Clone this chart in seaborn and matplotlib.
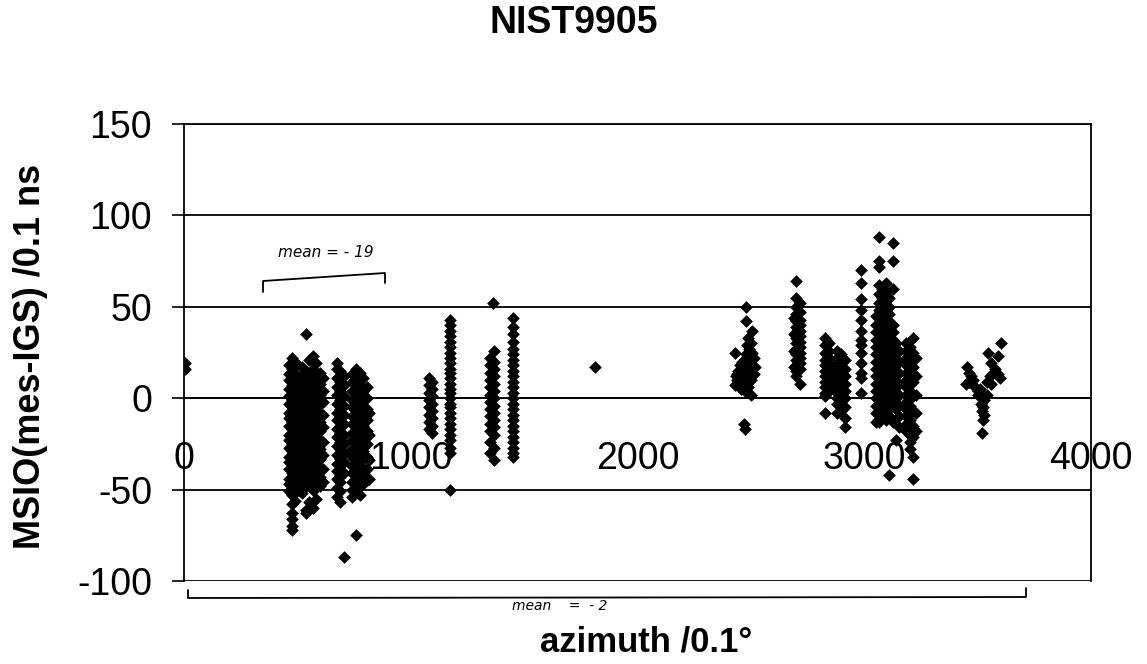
import matplotlib
matplotlib.use("Agg")
import matplotlib.pyplot as plt
from matplotlib.lines import Line2D
import pandas as pd
import seaborn as sns

# ---------------- text ----------------
title = "NIST9905"
x_label = "azimuth /0.1°"
y_label = "MSIO(mes-IGS) /0.1 ns"
x_ticks = [0, 1000, 2000, 3000, 4000]
y_ticks = [-100, -50, 0, 50, 100, 150]
note_top = "mean = - 19"
note_bottom = "mean    =  - 2"

# ---------------- data (azimuth /0.1 deg, MSIO /0.1 ns) ----------------
# isolated points
single_az = [3, 3, 1812, 1361, 2470, 2472]
single_ms = [16, 19, 17, 52, -14, -17]

# pass near azimuth 450-620 (dense block)
block1_az = [462, 476, 490, 506, 522, 536, 552, 568, 584, 600, 614]
block1_ms = [
    [18, 13, 10, 5, 1, -3, -8, -11, -15, -20, -23, -27, -32, -35, -39, -44, -47, -51],
    [22, 16, 11, 7, 2, -1, -5, -10, -13, -17, -22, -25, -29, -34, -37, -41, -46, -49, -53, -58, -63, -66, -70, -72],
    [20, 14, 8, 4, 0, -4, -9, -12, -16, -21, -24, -28, -33, -36, -40, -45, -48, -52, -56],
    [10, 6, 2, -2, -7, -10, -14, -19, -22, -26, -31, -34, -38, -43, -46, -50],
    [17, 12, 7, 3, -1, -6, -9, -13, -18, -21, -25, -30, -33, -37, -42, -45, -52],
    [35, 15, 9, 4, 0, -5, -8, -12, -17, -20, -24, -29, -32, -36, -41, -44, -48, -61, -63],
    [21, 13, 8, 2, -3, -7, -11, -16, -19, -23, -28, -31, -35, -40, -43, -47, -57],
    [23, 16, 10, 5, 0, -5, -10, -14, -18, -23, -26, -30, -35, -38, -42, -47, -50, -60],
    [19, 12, 6, 1, -4, -9, -13, -17, -22, -25, -29, -34, -37, -41, -46, -49, -55],
    [14, 8, 2, -3, -8, -13, -18, -23, -28, -33, -38, -43, -48],
    [11, 4, -2, -9, -16, -24, -31, -39, -46],
]

# pass near azimuth 680-710
block2_az = [676, 690, 706]
block2_ms = [
    [19, 16, 11, 6, 2, -3, -8, -12, -17, -21, -26, -31, -36, -40, -44, -49, -54],
    [15, 9, 4, -1, -6, -10, -15, -19, -24, -28, -33, -37, -42, -46, -51, -57],
    [12, 7, 1, -4, -9, -14, -20, -25, -30, -35, -41, -87],
]

# pass near azimuth 740-820
block3_az = [742, 758, 774, 790, 806, 818]
block3_ms = [
    [13, 9, 4, -1, -5, -10, -14, -19, -23, -28, -32, -37, -41, -46, -50, -54],
    [16, 10, 5, 0, -4, -9, -13, -18, -22, -27, -31, -36, -40, -45, -49, -75],
    [14, 7, 2, -3, -7, -12, -16, -21, -25, -30, -34, -39, -43, -48, -53],
    [11, 4, -1, -6, -11, -15, -20, -24, -29, -33, -38, -42, -47],
    [6, 0, -6, -12, -18, -25, -32, -39, -45],
    [-8, -20, -34, -44],
]

# passes near azimuth 1080-1460
block4_az = [1080, 1094, 1171, 1350, 1365, 1452]
block4_ms = [
    [11, 7, 3, -1, -5, -9, -13, -17],
    [9, 5, 1, -3, -7, -11, -15, -19],
    [43, 40, 37, 34, 31, 28, 25, 22, 19, 16, 14, 11, 8, 5, 3, 0, -3, -5, -8, -11, -14, -17, -20, -23, -27, -30, -50],
    [22, 18, 14, 10, 6, 2, -2, -6, -10, -14, -18, -24, -30],
    [26, 20, 16, 12, 8, 4, 0, -4, -8, -12, -16, -20, -27, -34],
    [44, 39, 35, 31, 27, 24, 21, 18, 15, 12, 9, 6, 3, 0, -3, -6, -9, -12, -15, -18, -21, -24, -27, -30, -32],
]

# pass near azimuth 2430-2520 (scattered)
group5_az = [2479, 2479, 2505, 2487, 2483, 2430, 2505, 2519, 2444, 2461, 2490,
             2430, 2450, 2474, 2500, 2512, 2440, 2465, 2495, 2455, 2488, 2512, 2500,
             2440, 2448, 2456, 2466, 2478, 2485, 2495, 2450, 2462, 2472, 2500, 2480,
             2492, 2458, 2436]
group5_ms = [50, 42, 37, 33, 29, 25, 25, 17, 15, 12, 18,
             7, 9, 7, 10, 22, 13, 11, 21, 5, 6, 13, 30,
             10, 14, 8, 15, 12, 9, 15, 18, 20, 4, 2, 24,
             27, 6, 12]

# passes near azimuth 2690-3000
block6_az = [2690, 2700, 2718, 2828, 2845, 2880, 2898, 2915, 2985]
block6_ms = [
    [44, 35, 26, 17],
    [64, 55, 50, 46, 42, 39, 36, 33, 30, 27, 24, 21, 18, 15, 12],
    [52, 47, 43, 40, 37, 34, 31, 28, 25, 22, 19, 16, 8],
    [33, 29, 25, 21, 18, 15, 12, 9, 6, 3, 1, -8],
    [30, 26, 22, 19, 16, 13, 10, 7, 4],
    [26, 22, 18, 15, 12, 9, 6, 3, 0, -3, -8],
    [24, 20, 17, 14, 11, 8, 5, 2, -1, -4, -7],
    [21, 16, 12, 8, 4, 0, -5, -11, -16],
    [70, 63, 54, 48, 43, 37, 32, 29, 25, 19, 14, 11, 3],
]

# pass near azimuth 3040-3250 (dense block)
block7_az = [3050, 3065, 3080, 3095, 3110, 3125, 3140, 3155, 3185, 3200, 3215, 3230]
block7_ms = [
    [45, 40, 36, 32, 28, 24, 20, 16, 12, 8, 4, 0, -4, -8, -13],
    [88, 75, 72, 62, 57, 52, 48, 44, 40, 36, 32, 28, 24, 20, 16, 12, 8, 4, 0, -4, -9, -13],
    [60, 55, 50, 46, 42, 38, 34, 30, 26, 22, 18, 14, 10, 6, 2, -2, -6, -10],
    [63, 58, 53, 49, 45, 41, 37, 33, 29, 25, 21, 17, 13, 9, 5, 1, -3, -7, -12],
    [55, 50, 46, 42, 38, 34, 30, 26, 22, 18, 14, 10, 6, 2, -2, -6, -10, -42],
    [85, 75, 60, 40, 36, 32, 28, 24, 20, 16, 12, 8, 4, 0, -4, -13],
    [30, 24, 18, 12, 6, 0, -6, -23],
    [26, 20, 14, 8, 2, -4, -10, -16],
    [30, 26, 22, 18, 14, 10, 6, 2, -2, -6, -10, -14, -18],
    [28, 24, 20, 16, 12, 8, 4, 0, -4, -8, -12, -16, -20, -24, -28],
    [33, 25, 17, 9, 1, -7, -15, -21, -32, -44],
    [22, 12, 2, -8, -18],
]

# pass near azimuth 3440-3610 (scattered)
group8_az = [3455, 3462, 3470, 3448, 3460, 3478, 3490, 3500,
             3601, 3544, 3588, 3560, 3575, 3590, 3600, 3555, 3540, 3560,
             3510, 3520, 3530, 3515, 3525, 3520, 3530, 3522, 3518, 3500, 3540, 3510]
group8_ms = [17, 14, 12, 8, 9, 10, 6, 4,
             30, 25, 23, 19, 16, 13, 11, 12, 9, 8,
             3, 1, -1, -3, -5, -7, -9, -12, -19, 2, 2, 5]

# ---------------- assemble ----------------
az_all, ms_all = list(single_az), list(single_ms)
for cols_az, cols_ms in [(block1_az, block1_ms), (block2_az, block2_ms), (block3_az, block3_ms),
                         (block4_az, block4_ms), (block6_az, block6_ms), (block7_az, block7_ms)]:
    for a, vals in zip(cols_az, cols_ms):
        az_all += [a] * len(vals)
        ms_all += vals
az_all += group5_az + group8_az
ms_all += group5_ms + group8_ms
df = pd.DataFrame({"azimuth": az_all, "msio": ms_all})

# ---------------- plot ----------------
sns.set_theme(style="white")
plt.rcParams["font.family"] = ["Liberation Sans", "DejaVu Sans"]
plt.rcParams["axes.unicode_minus"] = False
plt.rcParams["text.color"] = "black"
plt.rcParams["xtick.color"] = "black"
plt.rcParams["ytick.color"] = "black"

W, H = 1147, 664
fig = plt.figure(figsize=(W / 100, H / 100), dpi=100)
fig.patch.set_facecolor("white")
ax = fig.add_axes([184 / W, 1 - 581 / H, (1091 - 184) / W, (581 - 124) / H])
ax.set_facecolor("white")

ax.set_xlim(0, 4000)
ax.set_ylim(-100, 150)
ax.set_yticks(y_ticks)
ax.set_xticks(x_ticks)
ax.yaxis.grid(True, color="black", linewidth=1.3)
ax.xaxis.grid(False)
ax.set_axisbelow(True)

sns.scatterplot(data=df, x="azimuth", y="msio", marker="D", color="black",
                s=42, linewidth=0, ax=ax, legend=False, zorder=3)

ax.spines["bottom"].set_position(("data", 0))
for side in ["left", "right", "top", "bottom"]:
    ax.spines[side].set_color("black")
    ax.spines[side].set_linewidth(1.3)

ax.tick_params(axis="x", direction="out", length=9, width=1.2, color="black",
               labelsize=27, pad=22, labelcolor="black")
ax.tick_params(axis="y", direction="out", length=9, width=1.2, color="black",
               labelsize=27, pad=14, labelcolor="black", left=True)
ax.set_xlabel("")
ax.set_ylabel("")

fig.text(574 / W, 1 - 23 / H, title, ha="center", va="center",
         fontsize=27, fontweight="bold", color="black")
fig.text(646 / W, 1 - 642 / H, x_label, ha="center", va="center",
         fontsize=25, fontweight="bold", color="black")
fig.text(31 / W, 1 - 356 / H, y_label, ha="center", va="center",
         rotation=90, fontsize=26, fontweight="bold", color="black")

# hand-drawn notes
def px(x, y):
    return x / W, 1 - y / H

xs, ys = zip(*[px(263, 292), px(263, 281), px(385, 273), px(385, 283)])
fig.add_artist(Line2D(xs, ys, color="black", linewidth=1.3))
fig.text(*px(326, 252), note_top, ha="center", va="center", fontsize=11,
         family=["DejaVu Sans"], fontstyle="italic", color="black")

xs, ys = zip(*[px(188, 590), px(188, 598), px(1026, 597), px(1026, 588)])
fig.add_artist(Line2D(xs, ys, color="black", linewidth=1.3))
fig.text(*px(560, 606), note_bottom, ha="center", va="center", fontsize=10,
         family=["DejaVu Sans"], fontstyle="italic", color="black")

fig.savefig("out.png", dpi=100, facecolor="white")
